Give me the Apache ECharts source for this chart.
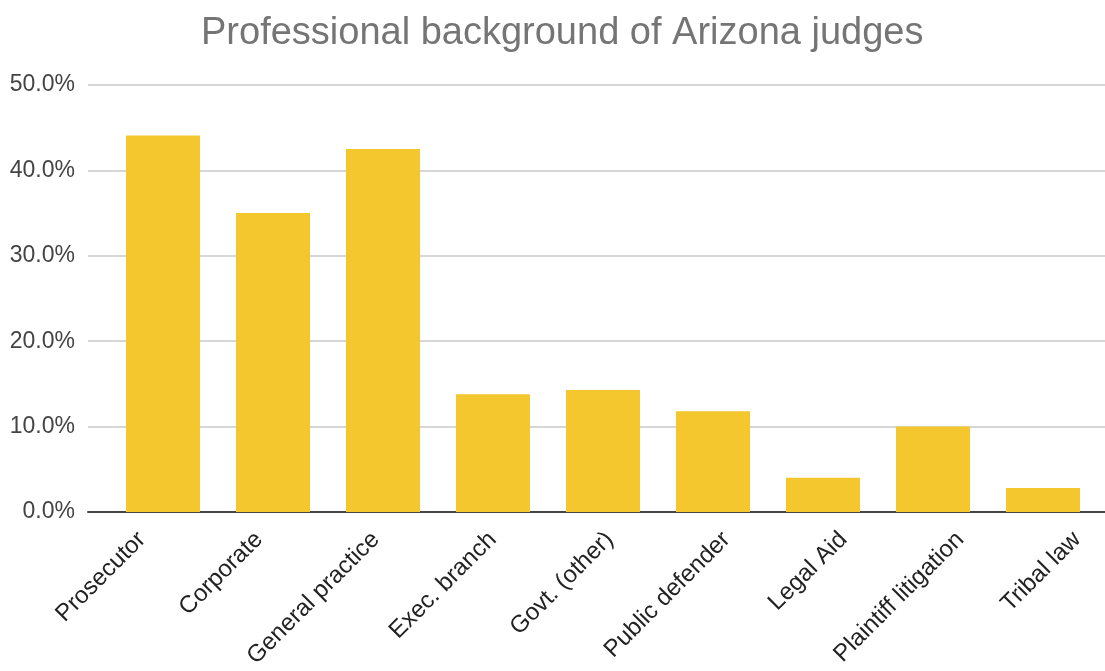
<!DOCTYPE html>
<html>
<head>
<meta charset="utf-8">
<script src="https://cdn.jsdelivr.net/npm/echarts@6/dist/echarts.min.js"></script>
<style>html,body{margin:0;padding:0;background:#fff}#c{width:1105px;height:671px}</style>
</head>
<body>
<div id="c"></div>
<script>
const categories = ["Prosecutor","Corporate","General practice","Exec. branch","Govt. (other)","Public defender","Legal Aid","Plaintiff litigation","Tribal law"];
const shares = [44.1, 35.0, 42.5, 13.8, 14.3, 11.8, 4.0, 10.0, 2.8];
const yTicks = [0, 10, 20, 30, 40, 50];

const FONT = '"Liberation Sans", Arial, sans-serif';
const chart = echarts.init(document.getElementById('c'), null, {renderer: 'canvas'});
const gTop = 85, gBottom = 159;
const labelIdx = categories.map((c, i) => i);
chart.setOption({
  animation: false,
  backgroundColor: '#ffffff',
  title: {
    text: 'Professional background of Arizona judges',
    left: 196, top: 10,
    textStyle: {fontFamily: FONT, fontSize: 38, fontWeight: 'normal', color: '#757575'}
  },
  grid: [
    {left: 88, right: 0, top: gTop, bottom: gBottom},
    {left: 108, right: 7, top: gTop, bottom: gBottom},
    {left: 88, right: 0, top: gTop, bottom: gBottom}
  ],
  xAxis: [
    {gridIndex: 0, type: 'category', data: categories,
     axisLine: {show: true, lineStyle: {color: '#444', width: 2}},
     axisTick: {show: false}, axisLabel: {show: false}, splitLine: {show: false}},
    {gridIndex: 1, type: 'category', data: categories,
     axisLine: {show: false}, axisTick: {show: false}, axisLabel: {show: false}},
    {gridIndex: 2, type: 'value', min: -0.462, max: 8.238,
     axisLine: {show: false}, axisTick: {show: false}, splitLine: {show: false},
     axisLabel: {show: true, rotate: 45, margin: 24, customValues: labelIdx,
                 showMinLabel: true, showMaxLabel: true, hideOverlap: false,
                 fontFamily: FONT, fontSize: 24, color: '#222',
                 formatter: v => categories[Math.round(v)] || ''}}
  ],
  yAxis: [
    {gridIndex: 0, type: 'value', min: yTicks[0], max: yTicks[yTicks.length-1], interval: 10,
     axisLine: {show: false}, axisTick: {show: false},
     axisLabel: {margin: 13, fontFamily: FONT, fontSize: 23, color: '#444',
                 formatter: v => v.toFixed(1) + '%'},
     splitLine: {show: true, lineStyle: {color: '#d6d6d6', width: 2}}},
    {gridIndex: 1, type: 'value', min: yTicks[0], max: yTicks[yTicks.length-1], interval: 10,
     show: false, splitLine: {show: false}},
    {gridIndex: 2, type: 'value', min: yTicks[0], max: yTicks[yTicks.length-1], interval: 10,
     show: false, splitLine: {show: false}}
  ],
  series: [{
    type: 'bar', xAxisIndex: 1, yAxisIndex: 1,
    data: shares, barWidth: 74,
    itemStyle: {color: '#F4C72F'}
  }]
});
</script>
</body>
</html>
